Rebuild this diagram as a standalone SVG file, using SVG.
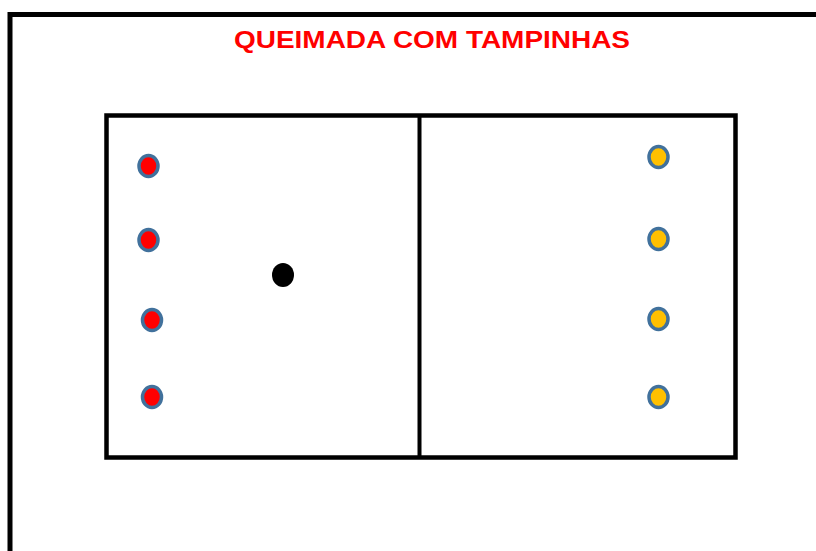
<svg xmlns="http://www.w3.org/2000/svg" width="816" height="551" viewBox="0 0 816 551">
<style>
.line{fill:none;stroke:#000;stroke-linecap:square}
.red{fill:#ff0000;stroke:#41719c;stroke-width:3.5}
.yel{fill:#ffc000;stroke:#41719c;stroke-width:3.5}
.title{font-family:"Liberation Sans",Arial,sans-serif;font-weight:bold;fill:#ff0000;font-size:24px}
</style>
<rect width="816" height="551" fill="#fff"/>
<g id="frame">
<path class="line" d="M10 560 V14.5 H830" stroke-width="5"/>
</g>
<text class="title" x="234" y="48" textLength="396" lengthAdjust="spacingAndGlyphs">QUEIMADA COM TAMPINHAS</text>
<g id="court">
<rect class="line" x="106.5" y="115.5" width="629" height="342" stroke-width="4.5"/>
<line class="line" x1="419.5" y1="116" x2="419.5" y2="457" stroke-width="4"/>
</g>
<g id="red-team">
<ellipse class="red" cx="148.5" cy="166" rx="9.5" ry="10.5"/>
<ellipse class="red" cx="148.5" cy="240" rx="9.5" ry="10.5"/>
<ellipse class="red" cx="152" cy="320" rx="9.5" ry="10.5"/>
<ellipse class="red" cx="152" cy="397" rx="9.5" ry="10.5"/>
</g>
<g id="yellow-team">
<ellipse class="yel" cx="658.5" cy="157" rx="9.5" ry="10.5"/>
<ellipse class="yel" cx="658.5" cy="239" rx="9.5" ry="10.5"/>
<ellipse class="yel" cx="658.5" cy="319" rx="9.5" ry="10.5"/>
<ellipse class="yel" cx="658.5" cy="397" rx="9.5" ry="10.5"/>
</g>
<g id="ball">
<ellipse cx="283" cy="275" rx="11" ry="12" fill="#000"/>
</g>
</svg>
